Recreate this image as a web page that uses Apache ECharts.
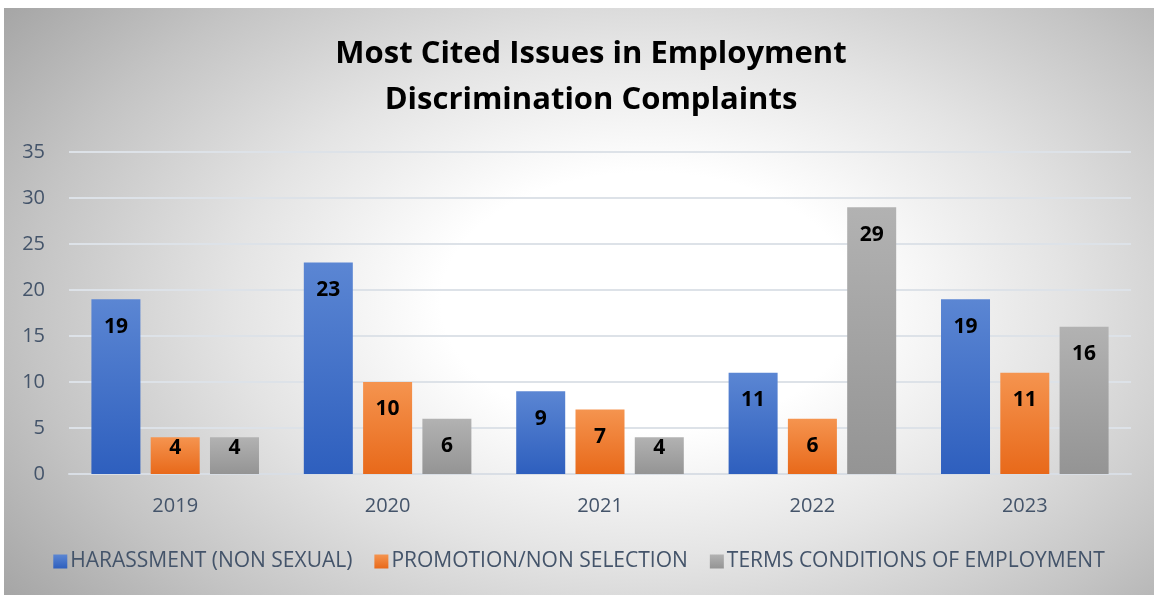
<!DOCTYPE html>
<html><head><meta charset="utf-8">
<script src="https://cdn.jsdelivr.net/npm/echarts@6/dist/echarts.min.js"></script>
<style>
html,body{margin:0;padding:0;background:#fff;width:1154px;height:595px;overflow:hidden}
#c{position:absolute;left:4px;top:8px;width:1150px;height:587px;
background:radial-gradient(ellipse 72% 88% at 56% 50%, #ffffff 0%, #ffffff 25%, #e4e4e4 50%, #c4c4c4 75%, #a0a0a0 100%);}
</style></head><body>
<div id="c"></div>
<script>
const categories = ['2019','2020','2021','2022','2023'];
const harassment = [19, 23, 9, 11, 19];
const promotion = [4, 10, 7, 6, 11];
const terms = [4, 6, 4, 29, 16];
const seriesNames = ['HARASSMENT (NON SEXUAL)','PROMOTION/NON SELECTION','TERMS CONDITIONS OF EMPLOYMENT'];
const yTicks = [0,5,10,15,20,25,30,35];

const FONT = '"Open Sans", "Noto Sans", sans-serif';
const grads = [
  ['#5b86d3', '#2e5fbe'],
  ['#f5944f', '#e8691a'],
  ['#b2b2b2', '#949494']
];
function mkData(arr){
  return arr.map(v => ({
    value: v,
    label: { distance: v <= 4 ? 0 : 17 }
  }));
}
function mkSeries(name, arr, i){
  return {
    name, type:'bar', data: mkData(arr),
    barWidth: 49, barGap: '21%',
    itemStyle: { color: { type:'linear', x:0, y:0, x2:0, y2:1,
      colorStops:[{offset:0,color:grads[i][0]},{offset:1,color:grads[i][1]}] } },
    label: { show:true, position:'insideTop', color:'#000', fontWeight:'bold',
      fontSize:21, fontFamily:FONT },
    emphasis:{disabled:true}
  };
}
const chart = echarts.init(document.getElementById('c'));
chart.setOption({
  animation:false,
  backgroundColor:'transparent',
  title:{
    text:'Most Cited Issues in Employment\nDiscrimination Complaints',
    left:582, top:18, textAlign:'center',
    textStyle:{fontFamily:FONT, fontWeight:'bold', fontSize:31, lineHeight:46, color:'#000'}
  },
  legend:{
    bottom:18, left:'center', itemWidth:14, itemHeight:14, itemGap:22, icon:'rect',
    textStyle:{fontFamily:FONT, fontSize:21, color:'#44546A', padding:[0,0,0,-2]},
    data: seriesNames
  },
  grid:{left:65, right:23, top:144, bottom:121},
  xAxis:{
    type:'category', data:categories,
    axisLine:{lineStyle:{color:'#d9dee5', width:2}},
    axisTick:{show:false},
    axisLabel:{fontFamily:FONT, fontSize:20, color:'#44546A', margin:22}
  },
  yAxis:{
    type:'value', min:0, max:35, interval:5,
    axisLine:{show:false}, axisTick:{show:false},
    axisLabel:{fontFamily:FONT, fontSize:20, color:'#44546A', margin:24,
      formatter: v => yTicks.includes(v) ? String(v) : ''},
    splitLine:{lineStyle:{color:'#dde2e8', width:2}}
  },
  series:[
    mkSeries(seriesNames[0], harassment, 0),
    mkSeries(seriesNames[1], promotion, 1),
    mkSeries(seriesNames[2], terms, 2)
  ]
});
</script>
</body></html>
